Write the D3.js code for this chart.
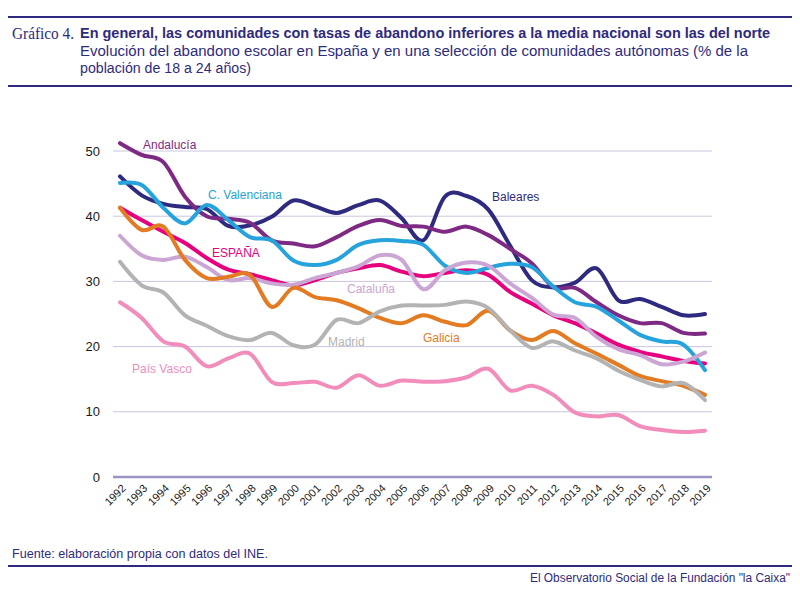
<!DOCTYPE html>
<html>
<head>
<meta charset="utf-8">
<script src="https://cdn.jsdelivr.net/npm/d3@7"></script>
<style>
  body { margin: 0; background: #fff; }
  svg { display: block; }
</style>
</head>
<body>
<script>
var width = 800, height = 591;

// years on the x axis
var years = d3.range(1992, 2020);

// % early school leavers
var espana    = [41.3, 39.4, 37.6, 35.9, 33.6, 31.8, 31.1, 30.2, 29.4, 30.2, 31.3, 32.0, 32.5, 31.5, 30.8, 31.3, 31.7, 31.0, 28.4, 26.6, 24.8, 23.6, 22.0, 20.3, 19.2, 18.5, 17.8, 17.4];
var baleares  = [46.1, 43.2, 41.9, 41.4, 41.1, 38.5, 38.6, 39.9, 42.4, 41.5, 40.5, 41.7, 42.4, 39.7, 36.3, 43.0, 43.1, 41.0, 35.5, 30.2, 29.1, 29.8, 32.0, 27.1, 27.3, 26.1, 24.8, 25.0];
var andalucia = [51.2, 49.4, 48.3, 43.0, 40.0, 39.6, 39.0, 36.3, 35.8, 35.4, 36.8, 38.5, 39.4, 38.5, 38.4, 37.6, 38.4, 37.1, 35.0, 32.8, 29.1, 29.0, 26.8, 24.8, 23.6, 23.6, 22.1, 22.0];
var valencia  = [45.1, 44.8, 41.3, 38.9, 41.7, 39.4, 36.8, 36.3, 33.2, 32.5, 33.3, 35.6, 36.3, 36.2, 35.6, 32.4, 31.3, 32.1, 32.7, 32.2, 29.2, 26.8, 26.1, 24.0, 21.8, 20.8, 20.3, 16.4];
var cataluna  = [37.0, 34.0, 33.3, 33.8, 32.2, 30.2, 30.5, 29.7, 29.5, 30.5, 31.3, 32.3, 34.0, 33.3, 28.8, 31.7, 32.9, 32.4, 29.7, 27.5, 24.9, 24.4, 21.5, 19.6, 18.7, 17.3, 17.7, 19.1];
var galicia   = [41.3, 37.9, 38.4, 33.3, 30.5, 30.7, 31.0, 26.1, 29.0, 27.6, 27.1, 25.9, 24.4, 23.6, 24.8, 23.8, 23.3, 25.5, 22.5, 21.0, 22.4, 20.5, 18.9, 17.2, 15.5, 14.7, 14.0, 12.6];
var madrid    = [33.0, 29.4, 28.3, 24.8, 23.2, 21.6, 21.0, 22.1, 20.2, 20.3, 24.1, 23.6, 25.4, 26.3, 26.3, 26.4, 26.9, 25.9, 22.5, 19.8, 20.8, 19.4, 18.2, 16.3, 14.9, 13.9, 14.4, 11.8];
var paisVasco = [26.8, 24.4, 20.8, 20.0, 17.0, 18.2, 18.9, 14.6, 14.4, 14.6, 13.7, 15.6, 14.0, 14.8, 14.6, 14.7, 15.3, 16.6, 13.3, 14.0, 12.6, 9.9, 9.3, 9.5, 7.8, 7.2, 6.9, 7.1];

var yTicks = [0, 10, 20, 30, 40, 50];

// series table (drawing order: first is at the bottom)
var series = [
  {name: 'ESPAÑA', values: espana, color: '#e6007e', lx: 212, ly: 257},
  {name: 'Baleares', values: baleares, color: '#2e2a80', lx: 492, ly: 201},
  {name: 'Andalucía', values: andalucia, color: '#7e2a84', lx: 143, ly: 149},
  {name: 'C. Valenciana', values: valencia, color: '#26a3dc', lx: 208, ly: 199},
  {name: 'Cataluña', values: cataluna, color: '#cba5d3', lx: 347, ly: 293},
  {name: 'Galicia', values: galicia, color: '#e27b22', lx: 423, ly: 342},
  {name: 'Madrid', values: madrid, color: '#b3b3b3', lx: 328, ly: 346},
  {name: 'País Vasco', values: paisVasco, color: '#f28dbb', lx: 132, ly: 373}
];

var navy = '#2e2a80';
var sans = '"Liberation Sans", Arial, sans-serif';

var svg = d3.select('body').append('svg').attr('width', width).attr('height', height);

// header
svg.append('line').attr('x1', 8).attr('x2', 792).attr('y1', 17).attr('y2', 17)
  .attr('stroke', navy).attr('stroke-width', 2);
svg.append('text').attr('x', 12).attr('y', 39)
  .attr('font-family', '"Liberation Serif", "DejaVu Serif", serif')
  .attr('font-size', 16).attr('fill', navy).attr('textLength', 62)
  .attr('lengthAdjust', 'spacingAndGlyphs')
  .text('Gráfico 4.');
svg.append('text').attr('x', 80).attr('y', 38)
  .attr('font-family', sans)
  .attr('font-weight', 'bold').attr('font-size', 14).attr('fill', navy)
  .attr('textLength', 690).attr('lengthAdjust', 'spacingAndGlyphs')
  .text('En general, las comunidades con tasas de abandono inferiores a la media nacional son las del norte');
svg.append('text').attr('x', 80).attr('y', 56)
  .attr('font-family', sans)
  .attr('font-size', 14).attr('fill', navy)
  .attr('textLength', 668).attr('lengthAdjust', 'spacingAndGlyphs')
  .text('Evolución del abandono escolar en España y en una selección de comunidades autónomas (% de la');
svg.append('text').attr('x', 80).attr('y', 73)
  .attr('font-family', sans)
  .attr('font-size', 14).attr('fill', navy)
  .attr('textLength', 171).attr('lengthAdjust', 'spacingAndGlyphs')
  .text('población de 18 a 24 años)');
svg.append('line').attr('x1', 8).attr('x2', 792).attr('y1', 86).attr('y2', 86)
  .attr('stroke', navy).attr('stroke-width', 2);

// scales
var x = d3.scaleLinear().domain([1992, 2019]).range([120, 705]);
var y = d3.scaleLinear().domain([0, 50]).range([477, 151]);

var plot = svg.append('g');

// horizontal grid
plot.selectAll('.grid')
  .data(yTicks.filter(function(d) { return d > 0; }))
  .join('line')
  .attr('class', 'grid')
  .attr('x1', 113).attr('x2', 712)
  .attr('y1', function(d) { return y(d); })
  .attr('y2', function(d) { return y(d); })
  .attr('stroke', '#cbc5df').attr('stroke-width', 1);

// y axis labels
var yAxis = d3.axisLeft(y).tickValues(yTicks).tickSize(0).tickPadding(0);
var gy = plot.append('g').attr('transform', 'translate(100,0)').call(yAxis);
gy.select('.domain').remove();
gy.selectAll('text')
  .attr('font-family', sans)
  .attr('font-size', 13).attr('fill', '#1a1a1a');

// zero line
plot.append('line').attr('x1', 113).attr('x2', 712)
  .attr('y1', y(0)).attr('y2', y(0))
  .attr('stroke', '#9a93c5').attr('stroke-width', 2.5);

// x axis labels
var xAxis = d3.axisBottom(x).tickValues(years).tickFormat(d3.format('d')).tickSize(0).tickPadding(0);
var gx = plot.append('g').attr('transform', 'translate(0,' + y(0) + ')').call(xAxis);
gx.select('.domain').remove();
gx.selectAll('text')
  .attr('font-family', sans)
  .attr('font-size', 11).attr('fill', '#1a1a1a')
  .attr('text-anchor', 'end')
  .attr('dy', null)
  .attr('y', 0)
  .attr('transform', 'translate(6,12) rotate(-45)');

// lines (smoothed like the original)
var line = d3.line()
  .x(function(d, i) { return x(years[i]); })
  .y(function(d) { return y(d); })
  .curve(d3.curveCatmullRom.alpha(0));

plot.selectAll('.serie')
  .data(series)
  .join('path')
  .attr('class', 'serie')
  .attr('fill', 'none')
  .attr('stroke', function(d) { return d.color; })
  .attr('stroke-width', 4)
  .attr('stroke-linecap', 'round')
  .attr('stroke-linejoin', 'round')
  .attr('d', function(d) { return line(d.values); });

// series labels
plot.selectAll('.lab')
  .data(series)
  .join('text')
  .attr('class', 'lab')
  .attr('x', function(d) { return d.lx; })
  .attr('y', function(d) { return d.ly; })
  .attr('font-family', sans)
  .attr('font-size', 12)
  .attr('fill', function(d) { return d.color; })
  .text(function(d) { return d.name; });

// footer
svg.append('text').attr('x', 12).attr('y', 558)
  .attr('font-family', sans)
  .attr('font-size', 12).attr('fill', navy)
  .attr('textLength', 256).attr('lengthAdjust', 'spacingAndGlyphs')
  .text('Fuente: elaboración propia con datos del INE.');
svg.append('line').attr('x1', 8).attr('x2', 792).attr('y1', 566).attr('y2', 566)
  .attr('stroke', navy).attr('stroke-width', 2);
svg.append('text').attr('x', 790).attr('y', 582)
  .attr('text-anchor', 'end')
  .attr('font-family', sans)
  .attr('font-size', 12).attr('fill', navy)
  .attr('textLength', 260).attr('lengthAdjust', 'spacingAndGlyphs')
  .text('El Observatorio Social de la Fundación "la Caixa"');

console.log('ready..');
</script>
</body>
</html>
